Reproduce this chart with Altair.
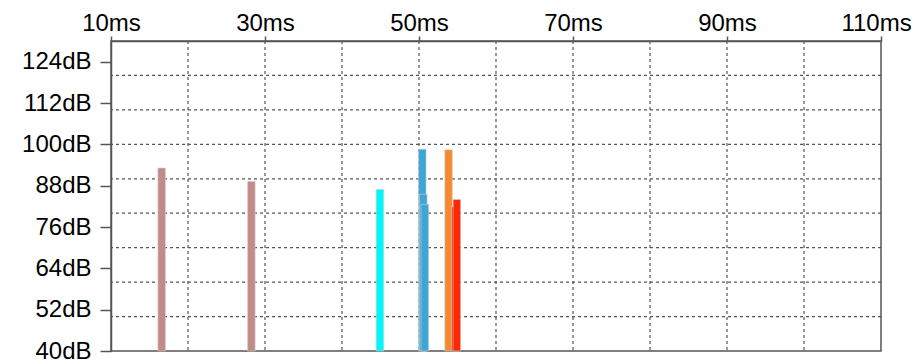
import altair as alt
import pandas as pd

# bar data (time in ms, level in dB, series)
times_ms = [16.58, 28.23, 44.93, 50.43, 50.56, 50.76, 53.84, 54.71, 54.92]
levels_db = [93.1, 89.2, 86.9, 98.6, 85.5, 82.6, 98.4, 81.8, 84.0]
series = ["s1", "s1", "s2", "s3", "s3", "s3", "s4", "s5", "s5"]

series_domain = ["s1", "s2", "s3", "s4", "s5"]
series_colors = ["#c28a88", "#00f6ff", "#3ea6d6", "#f38a2e", "#ff2800"]

x_ticks = [10, 30, 50, 70, 90, 110]
y_ticks = [40, 52, 64, 76, 88, 100, 112, 124]
x_grid = [20, 30, 40, 50, 60, 70, 80, 90, 100]
y_grid = [50, 60, 70, 80, 90, 100, 110, 120]

bars = pd.DataFrame({"t": times_ms, "db": levels_db, "s": series})
bars["o"] = list(range(len(times_ms)))

xscale = alt.Scale(domain=[10, 110], nice=False, zero=False, padding=0)
yscale = alt.Scale(domain=[40, 130], nice=False, zero=False, padding=0)

font = "Liberation Sans"
grid_color = "#555555"

x_axis = alt.Axis(
    orient="top",
    values=x_ticks,
    labelExpr="datum.value + 'ms'",
    grid=False,
    title=None,
    tickSize=5,
    labelPadding=1,
    labelFlush=False,
    labelOverlap=False,
    labelOffset={"condition": {"test": "datum.value >= 110", "value": -5}, "value": 0},
)
y_axis = alt.Axis(
    orient="left",
    values=y_ticks,
    labelExpr="datum.value + 'dB'",
    grid=False,
    title=None,
    tickSize=11,
    labelPadding=9,
    labelFlush=False,
    labelOverlap=False,
)

vgrid = alt.Chart(pd.DataFrame({"t": x_grid})).mark_rule(
    color=grid_color, strokeDash=[3, 3], strokeWidth=1.2
).encode(x=alt.X("t:Q", scale=xscale, axis=x_axis))

hgrid = alt.Chart(pd.DataFrame({"db": y_grid})).mark_rule(
    color=grid_color, strokeDash=[3, 3], strokeWidth=1.2
).encode(y=alt.Y("db:Q", scale=yscale, axis=y_axis))

bar_layer = alt.Chart(bars).mark_bar(
    size=7.5, stroke="#cfcfcf", strokeWidth=0.6
).encode(
    x=alt.X("t:Q", scale=xscale, axis=x_axis),
    y=alt.Y("db:Q", scale=yscale, axis=y_axis),
    y2=alt.datum(40),
    color=alt.Color("s:N", scale=alt.Scale(domain=series_domain, range=series_colors), legend=None),
    order=alt.Order("o:Q"),
)

chart = (
    alt.layer(vgrid, hgrid, bar_layer)
    .properties(
        width=770,
        height=310,
        autosize=alt.AutoSizeParams(type="none"),
        padding={"left": 103, "top": 33, "right": 33, "bottom": 12},
        background="white",
    )
    .configure_axis(
        labelFont=font,
        labelFontSize=24,
        labelColor="#000000",
        domainColor="#555555",
        domainWidth=1.5,
        tickColor="#555555",
        tickWidth=1.5,
    )
    .configure_view(stroke="#555555", strokeWidth=1.5)
)

chart.save("out.html", embed_options={"renderer": "svg", "actions": False})
